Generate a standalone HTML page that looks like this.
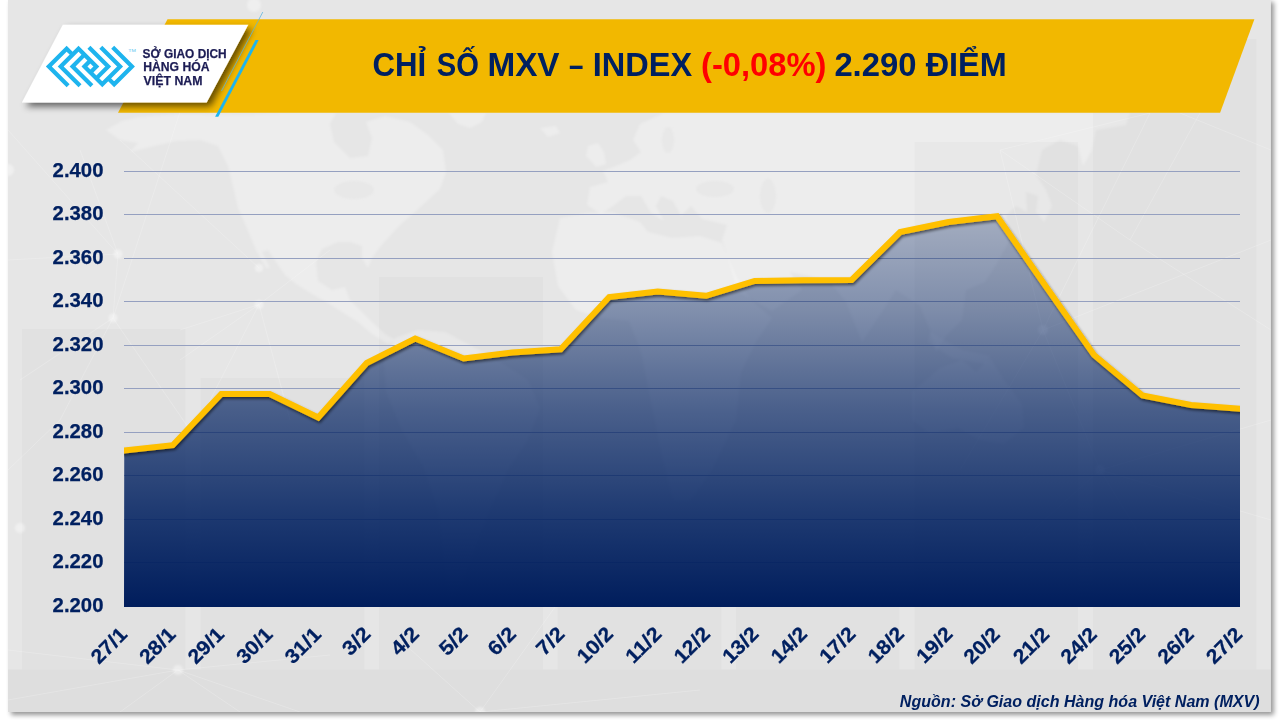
<!DOCTYPE html>
<html lang="vi">
<head>
<meta charset="utf-8">
<title>MXV Index</title>
<style>
html,body{margin:0;padding:0;background:#ffffff;}
body{width:1280px;height:720px;overflow:hidden;font-family:"Liberation Sans",sans-serif;}
svg{display:block;position:absolute;left:0;top:0;}
text{font-family:"Liberation Sans",sans-serif;}
.ga{opacity:0.999;}
</style>
</head>
<body>
<svg width="1280" height="720" viewBox="0 0 1280 720">
<defs>
  <filter id="panelShadow" x="-5%" y="-5%" width="110%" height="110%">
    <feGaussianBlur in="SourceAlpha" stdDeviation="2.6"/>
    <feOffset dx="2.5" dy="2.5"/>
    <feComponentTransfer><feFuncA type="linear" slope="0.42"/></feComponentTransfer>
    <feMerge><feMergeNode/><feMergeNode in="SourceGraphic"/></feMerge>
  </filter>
  <filter id="cardShadow" x="-20%" y="-30%" width="140%" height="170%">
    <feGaussianBlur in="SourceAlpha" stdDeviation="3.6"/>
    <feOffset dx="4" dy="4"/>
    <feComponentTransfer><feFuncA type="linear" slope="0.58"/></feComponentTransfer>
    <feMerge><feMergeNode/><feMergeNode in="SourceGraphic"/></feMerge>
  </filter>
  <filter id="lineShadow" x="-5%" y="-20%" width="110%" height="150%">
    <feGaussianBlur in="SourceAlpha" stdDeviation="1.6"/>
    <feOffset dx="1" dy="2.2"/>
    <feComponentTransfer><feFuncA type="linear" slope="0.55"/></feComponentTransfer>
    <feMerge><feMergeNode/><feMergeNode in="SourceGraphic"/></feMerge>
  </filter>
  <filter id="soft" x="-5%" y="-5%" width="110%" height="110%"><feGaussianBlur stdDeviation="1.1"/></filter>
  <linearGradient id="areaGrad" x1="0" y1="213" x2="0" y2="607" gradientUnits="userSpaceOnUse">
    <stop offset="0" stop-color="#002060" stop-opacity="0.29"/>
    <stop offset="0.25" stop-color="#002060" stop-opacity="0.46"/>
    <stop offset="0.5" stop-color="#002060" stop-opacity="0.68"/>
    <stop offset="0.75" stop-color="#002060" stop-opacity="0.86"/>
    <stop offset="1" stop-color="#001d5c" stop-opacity="1"/>
  </linearGradient>
</defs>
<!-- panel -->
<rect id="panel" x="8" y="-1" width="1262.8" height="713" fill="#e6e6e6" filter="url(#panelShadow)"/>
<!-- background decor: faint world map, bars, network -->
<clipPath id="panelClip"><rect x="8" y="0" width="1262.8" height="712"/></clipPath>
<g id="decor" clip-path="url(#panelClip)">
  <g id="land" fill="#ffffff" fill-opacity="0.27" filter="url(#soft)">
    <!-- North America -->
    <path d="M106,130 L122,121 L139,117 L180,114 L238,115 L290,113 L336,113 L330,124 L334,142 L350,158 L368,156 L372,138 L366,122 L385,116 L410,122 L428,135 L443,150 L446,172 L440,189 L428,200 L415,212 L400,225 L388,238 L380,247 L372,258 L368,268 L362,258 L362,246 L350,242 L338,242 L322,249 L316,262 L318,281 L332,290 L345,287 L350,300 L362,312 L372,322 L385,334 L395,340 L388,344 L372,334 L358,322 L345,314 L328,303 L312,294 L296,284 L285,275 L276,262 L268,250 L262,252 L270,268 L266,268 L256,250 L246,226 L238,208 L233,186 L228,166 L218,146 L200,140 L176,141 L150,147 L130,152 L138,143 L120,140 Z"/>
    <!-- Greenland tip / Iceland -->
    <path d="M449,113 L486,113 L482,122 L470,128 L458,124 Z"/>
    <path d="M540,128 L556,126 L560,133 L548,137 Z"/>
    <!-- UK / Ireland -->
    <path d="M588,146 L598,143 L604,152 L606,164 L596,167 L590,160 L586,156 Z"/>
    <!-- South America -->
    <path d="M395,338 L418,330 L445,332 L470,345 L500,362 L528,380 L540,408 L528,440 L508,470 L492,505 L476,545 L462,585 L450,604 L444,560 L438,510 L424,468 L402,430 L386,392 L384,360 Z"/>
    <!-- Eurasia -->
    <path d="M587,205 L590,187 L608,182 L603,171 L616,166 L630,160 L641,152 L633,140 L640,124 L664,113 L900,113 L1130,113 L1126,125 L1096,130 L1092,150 L1083,166 L1078,146 L1060,140 L1042,150 L1036,175 L1046,190 L1052,206 L1044,222 L1036,212 L1038,196 L1026,192 L1027,212 L1016,206 L1006,216 L1010,240 L996,265 L985,282 L966,290 L962,320 L946,336 L936,352 L930,330 L920,306 L896,290 L880,315 L862,342 L846,302 L830,282 L810,276 L790,272 L802,290 L772,311 L738,292 L726,252 L722,240 L727,225 L702,219 L691,206 L681,216 L673,201 L661,196 L656,206 L664,221 L651,213 L641,196 L626,196 L613,206 L601,214 Z"/>
    <!-- Scandinavia bump already in Eurasia; Africa -->
    <path d="M560,218 L586,213 L612,212 L640,222 L648,232 L672,238 L700,236 L722,243 L736,276 L751,300 L772,318 L756,342 L741,372 L736,420 L712,470 L691,500 L673,500 L661,452 L651,402 L641,352 L629,321 L601,318 L576,310 L558,286 L552,252 Z"/>
    <!-- Australia -->
    <path d="M912,392 L940,368 L962,360 L976,372 L990,358 L1004,380 L1022,404 L1024,428 L1004,444 L980,440 L958,428 L930,434 L912,420 Z"/>
    <!-- Indonesia / Philippines blobs -->
    <path d="M930,332 L962,350 L990,356 L986,364 L952,358 L928,342 Z"/>
  </g>
  <g id="seas" fill="#e6e6e6" fill-opacity="0.7" filter="url(#soft)">
    <ellipse cx="715" cy="189" rx="19" ry="8"/>
    <ellipse cx="768" cy="196" rx="8" ry="17"/>
    <ellipse cx="354" cy="190" rx="20" ry="9"/>
    <ellipse cx="668" cy="140" rx="6" ry="13"/>
  </g>
  <g id="bars" fill="#000000" fill-opacity="0.02">
    <rect x="22" y="329" width="163.5" height="340.5"/>
    <rect x="200.5" y="378" width="164" height="291.5"/>
    <rect x="379" y="277" width="164" height="392.5"/>
    <rect x="557.5" y="607" width="164" height="62.5"/>
    <rect x="736" y="607" width="163.5" height="62.5"/>
    <rect x="914.5" y="142" width="163.5" height="527.5"/>
    <rect x="1093" y="39" width="163.5" height="630.5"/>
  </g>
  <rect id="floor" x="8" y="669.5" width="1264" height="43" fill="#000000" fill-opacity="0.032"/>
  <g id="net" stroke="#ffffff" stroke-opacity="0.2" stroke-width="1" fill="none">
    <path d="M8,130 L118,254 L8,260 M118,254 L80,150 M118,254 L113,318 L60,420 L8,470 M113,318 L180,112 M113,318 L20,380 M113,318 L190,430"/>
    <path d="M259,268 L120,140 M259,304.5 L180,330 M259,304.5 L200,420 M259,304.5 L290,420 M259,304.5 L330,250 M259,304.5 L180,360"/>
    <path d="M178,670 L8,650 M178,670 L8,700 M178,670 L240,712 M178,670 L330,655 M178,670 L120,712 M178,670 L300,712"/>
    <path d="M1043,330 L1000,150 L1150,113 M1043,330 L1271,240 M1043,330 L1150,113 M1043,330 L1100,470 L1271,520 M1043,330 L960,470 M1100,470 L1000,560 M1100,470 L1180,600 M1100,470 L1271,420"/>
    <path d="M1271,150 L1180,113 M1271,330 L1130,240 L1000,150 M1130,240 L1200,113"/>
    <path d="M480,712 L560,600 M480,712 L400,640 M480,712 L700,690"/>
  </g>
  <g id="nodes" fill="#ffffff" fill-opacity="0.38" filter="url(#soft)">
    <circle cx="118" cy="254" r="4.5"/><circle cx="113" cy="318" r="4.5"/><circle cx="259" cy="268" r="4"/><circle cx="259" cy="304.5" r="4.5"/>
    <circle cx="178" cy="670" r="5"/><circle cx="1043" cy="330" r="5"/><circle cx="1100" cy="470" r="5"/><circle cx="480" cy="712" r="5"/>
    <circle cx="8" cy="170" r="6"/><circle cx="254" cy="5" r="7" fill-opacity="0.35"/><circle cx="20" cy="528" r="5"/>
  </g>
</g>
<!-- banner -->
<polygon points="167.5,19.2 1254.4,19.2 1220.1,112.7 118,112.7" fill="#f2b800"/>
<!-- logo card -->
<polygon points="62.8,24.8 248.3,24.8 206.7,102.5 21.9,102.5" fill="#ffffff" filter="url(#cardShadow)"/>
<line x1="262.8" y1="12" x2="221.5" y2="91" stroke="#5bb6e0" stroke-width="0.9" opacity="0.85"/>
<polygon points="255.5,40 258.7,40 218.3,116.8 215.1,116.8" fill="#1eb4ee"/>
<!-- logo mark -->
<g transform="translate(90.4,66.5) scale(5.94)" fill="none" stroke="#1eb4ee" stroke-width="0.7071" stroke-linejoin="miter" stroke-miterlimit="10" stroke-linecap="butt">
  <path d="M-3.75,3.25 L-7,0 L-4,-3 L-3,-2"/>
  <path d="M-1.75,3.25 L-5,0 L-2,-3 L1,0 L0,1"/>
  <path d="M0.25,3.25 L-3,0 L-1,-2"/>
  <path d="M3.75,-3.25 L7,0 L4,3 L3,2"/>
  <path d="M1.75,-3.25 L5,0 L2,3 L-1,0 L0,-1"/>
  <path d="M-0.25,-3.25 L3,0 L1,2"/>
</g>
<text x="128.2" y="52.4" font-size="3.6" fill="#5cc4ef" textLength="7.6" lengthAdjust="spacingAndGlyphs">TM</text>
<g class="ga" id="logotext" font-weight="bold" fill="#1c1c54" stroke="#1c1c54" stroke-width="0.25" font-size="12.6">
  <text x="142.62" y="57.60" textLength="84.10" lengthAdjust="spacingAndGlyphs">SỞ GIAO DỊCH</text>
  <text x="143.18" y="71.40" textLength="66.27" lengthAdjust="spacingAndGlyphs">HÀNG HÓA</text>
  <text x="143.60" y="85.20" textLength="58.83" lengthAdjust="spacingAndGlyphs">VIỆT NAM</text>
</g>
<g class="ga" id="title" font-weight="bold" font-size="33.4">
  <text x="372.48" y="76.3" fill="#002060" textLength="53.69" lengthAdjust="spacingAndGlyphs">CHỈ</text>
  <text x="436.75" y="76.3" fill="#002060" textLength="42.12" lengthAdjust="spacingAndGlyphs">SỐ</text>
  <text x="487.42" y="76.3" fill="#002060" textLength="72.15" lengthAdjust="spacingAndGlyphs">MXV</text>
  <text x="569.10" y="76.3" fill="#002060" textLength="14.37" lengthAdjust="spacingAndGlyphs">–</text>
  <text x="592.74" y="76.3" fill="#002060" textLength="99.39" lengthAdjust="spacingAndGlyphs">INDEX</text>
  <text x="701.03" y="76.3" fill="#ff0000" textLength="125.46" lengthAdjust="spacingAndGlyphs">(-0,08%)</text>
  <text x="834.38" y="76.3" fill="#002060" textLength="82.06" lengthAdjust="spacingAndGlyphs">2.290</text>
  <text x="925.69" y="76.3" fill="#002060" textLength="80.98" lengthAdjust="spacingAndGlyphs">ĐIỂM</text>
</g>
<g id="grid" stroke="#95a0c0" stroke-width="1">
  <line x1="124" y1="171.50" x2="1240" y2="171.50"/>
  <line x1="124" y1="214.50" x2="1240" y2="214.50"/>
  <line x1="124" y1="258.50" x2="1240" y2="258.50"/>
  <line x1="124" y1="301.50" x2="1240" y2="301.50"/>
  <line x1="124" y1="345.50" x2="1240" y2="345.50"/>
  <line x1="124" y1="388.50" x2="1240" y2="388.50"/>
  <line x1="124" y1="432.50" x2="1240" y2="432.50"/>
  <line x1="124" y1="475.50" x2="1240" y2="475.50"/>
  <line x1="124" y1="519.50" x2="1240" y2="519.50"/>
  <line x1="124" y1="562.50" x2="1240" y2="562.50"/>
  <line x1="124" y1="606.50" x2="1240" y2="606.50"/>
</g>
<polygon id="area" points="124,606.9 124.25,450.50 172.74,445.20 221.23,394.00 269.72,394.00 318.21,417.50 366.70,363.00 415.19,338.50 463.68,358.50 512.17,352.50 560.66,349.30 609.15,297.00 657.64,291.50 706.13,295.80 754.62,281.00 803.11,280.30 851.60,280.00 900.09,232.00 948.58,222.00 997.07,216.20 1045.56,286.00 1094.05,355.00 1142.54,395.50 1191.03,405.00 1240.00,408.80 1240,606.9" fill="url(#areaGrad)"/>
<clipPath id="lineClip"><rect x="124" y="150" width="1116" height="470"/></clipPath>
<g clip-path="url(#lineClip)"><polyline id="dline" points="118.29,451.15 124.25,450.50 172.74,445.20 221.23,394.00 269.72,394.00 318.21,417.50 366.70,363.00 415.19,338.50 463.68,358.50 512.17,352.50 560.66,349.30 609.15,297.00 657.64,291.50 706.13,295.80 754.62,281.00 803.11,280.30 851.60,280.00 900.09,232.00 948.58,222.00 997.07,216.20 1045.56,286.00 1094.05,355.00 1142.54,395.50 1191.03,405.00 1240.00,408.80 1245.98,409.26" fill="none" stroke="#ffc000" stroke-width="6" stroke-linejoin="miter" stroke-miterlimit="6" filter="url(#lineShadow)"/></g>
<g class="ga" id="ylab" font-weight="bold" font-size="20.1" fill="#002060" stroke="#002060" stroke-width="0.25">
  <text x="52.61" y="177.0" textLength="50.85" lengthAdjust="spacingAndGlyphs">2.400</text>
  <text x="52.61" y="220.0" textLength="50.85" lengthAdjust="spacingAndGlyphs">2.380</text>
  <text x="52.61" y="264.0" textLength="50.85" lengthAdjust="spacingAndGlyphs">2.360</text>
  <text x="52.61" y="307.0" textLength="50.85" lengthAdjust="spacingAndGlyphs">2.340</text>
  <text x="52.61" y="351.0" textLength="50.85" lengthAdjust="spacingAndGlyphs">2.320</text>
  <text x="52.61" y="394.0" textLength="50.85" lengthAdjust="spacingAndGlyphs">2.300</text>
  <text x="52.61" y="438.0" textLength="50.85" lengthAdjust="spacingAndGlyphs">2.280</text>
  <text x="52.61" y="481.0" textLength="50.85" lengthAdjust="spacingAndGlyphs">2.260</text>
  <text x="52.61" y="525.0" textLength="50.85" lengthAdjust="spacingAndGlyphs">2.240</text>
  <text x="52.61" y="568.0" textLength="50.85" lengthAdjust="spacingAndGlyphs">2.220</text>
  <text x="52.61" y="612.0" textLength="50.85" lengthAdjust="spacingAndGlyphs">2.200</text>
</g>
<g class="ga" id="xlab" font-weight="bold" font-size="20.1" fill="#002060" stroke="#002060" stroke-width="0.25" text-anchor="end">
  <text transform="translate(128.3,635.7) rotate(-45)" textLength="41.5" lengthAdjust="spacingAndGlyphs">27/1</text>
  <text transform="translate(176.8,635.7) rotate(-45)" textLength="41.5" lengthAdjust="spacingAndGlyphs">28/1</text>
  <text transform="translate(225.3,635.7) rotate(-45)" textLength="41.5" lengthAdjust="spacingAndGlyphs">29/1</text>
  <text transform="translate(273.8,635.7) rotate(-45)" textLength="41.5" lengthAdjust="spacingAndGlyphs">30/1</text>
  <text transform="translate(322.3,635.7) rotate(-45)" textLength="41.5" lengthAdjust="spacingAndGlyphs">31/1</text>
  <text transform="translate(371.9,635.2) rotate(-45)" textLength="30.5" lengthAdjust="spacingAndGlyphs">3/2</text>
  <text transform="translate(420.4,635.2) rotate(-45)" textLength="30.5" lengthAdjust="spacingAndGlyphs">4/2</text>
  <text transform="translate(468.9,635.2) rotate(-45)" textLength="30.5" lengthAdjust="spacingAndGlyphs">5/2</text>
  <text transform="translate(517.4,635.2) rotate(-45)" textLength="30.5" lengthAdjust="spacingAndGlyphs">6/2</text>
  <text transform="translate(565.9,635.2) rotate(-45)" textLength="30.5" lengthAdjust="spacingAndGlyphs">7/2</text>
  <text transform="translate(614.4,635.2) rotate(-45)" textLength="41.5" lengthAdjust="spacingAndGlyphs">10/2</text>
  <text transform="translate(662.8,635.2) rotate(-45)" textLength="41.5" lengthAdjust="spacingAndGlyphs">11/2</text>
  <text transform="translate(711.3,635.2) rotate(-45)" textLength="41.5" lengthAdjust="spacingAndGlyphs">12/2</text>
  <text transform="translate(759.8,635.2) rotate(-45)" textLength="41.5" lengthAdjust="spacingAndGlyphs">13/2</text>
  <text transform="translate(808.3,635.2) rotate(-45)" textLength="41.5" lengthAdjust="spacingAndGlyphs">14/2</text>
  <text transform="translate(856.8,635.2) rotate(-45)" textLength="41.5" lengthAdjust="spacingAndGlyphs">17/2</text>
  <text transform="translate(905.3,635.2) rotate(-45)" textLength="41.5" lengthAdjust="spacingAndGlyphs">18/2</text>
  <text transform="translate(953.8,635.2) rotate(-45)" textLength="41.5" lengthAdjust="spacingAndGlyphs">19/2</text>
  <text transform="translate(1001.2,635.7) rotate(-45)" textLength="41.5" lengthAdjust="spacingAndGlyphs">20/2</text>
  <text transform="translate(1050.5,635.7) rotate(-45)" textLength="41.5" lengthAdjust="spacingAndGlyphs">21/2</text>
  <text transform="translate(1098.2,635.7) rotate(-45)" textLength="41.5" lengthAdjust="spacingAndGlyphs">24/2</text>
  <text transform="translate(1146.6,635.7) rotate(-45)" textLength="41.5" lengthAdjust="spacingAndGlyphs">25/2</text>
  <text transform="translate(1195.1,635.7) rotate(-45)" textLength="41.5" lengthAdjust="spacingAndGlyphs">26/2</text>
  <text transform="translate(1243.6,635.7) rotate(-45)" textLength="41.5" lengthAdjust="spacingAndGlyphs">27/2</text>
</g>
<text class="ga" id="src" x="899.87" y="706.7" font-weight="bold" font-style="italic" font-size="16.6" fill="#002060" textLength="359.66" lengthAdjust="spacingAndGlyphs">Nguồn: Sở Giao dịch Hàng hóa Việt Nam (MXV)</text>
</svg>
</body>
</html>
